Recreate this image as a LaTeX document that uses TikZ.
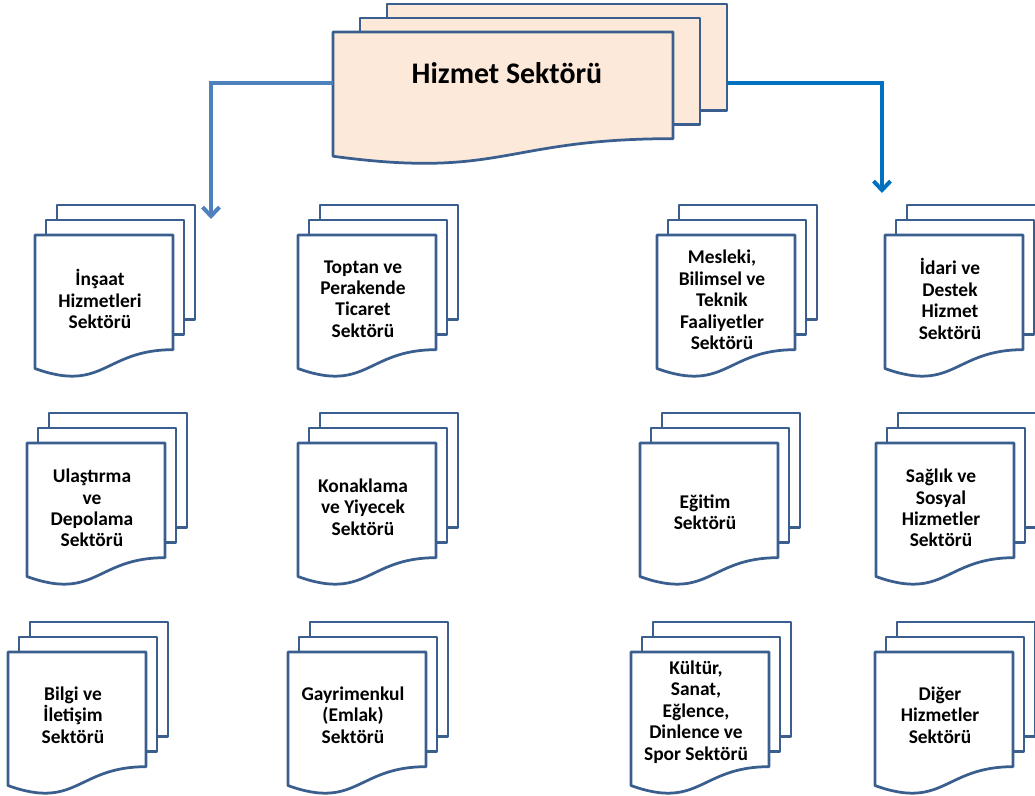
\documentclass[tikz,border=0pt]{standalone}
\usepackage{fontspec}
\setmainfont{Carlito}
\usepackage{xcolor}
\usetikzlibrary{arrows.meta}
\definecolor{pageLineColor}{HTML}{3A5F8E}
\definecolor{pageFillColor}{HTML}{FFFFFF}
\definecolor{mainFillColor}{HTML}{FDE9D9}
\definecolor{linkColorLeft}{HTML}{4F81BD}
\definecolor{linkColorRight}{HTML}{0070C0}
\def\textMain{Hizmet Sektörü}
\def\textA{İnşaat\\Hizmetleri\\Sektörü}
\def\textB{Toptan ve\\Perakende\\Ticaret\\Sektörü}
\def\textC{Mesleki,\\Bilimsel ve\\Teknik\\Faaliyetler\\Sektörü}
\def\textD{İdari ve\\Destek\\Hizmet\\Sektörü}
\def\textE{Ulaştırma\\ve\\Depolama\\Sektörü}
\def\textF{Konaklama\\ve Yiyecek\\Sektörü}
\def\textG{Eğitim\\Sektörü}
\def\textH{Sağlık ve\\Sosyal\\Hizmetler\\Sektörü}
\def\textI{Bilgi ve\\İletişim\\Sektörü}
\def\textJ{Gayrimenkul\\(Emlak)\\Sektörü}
\def\textK{Kültür,\\Sanat,\\Eğlence,\\Dinlence ve\\Spor Sektörü}
\def\textL{Diğer\\Hizmetler\\Sektörü}
% x, y, width, height, page shift x, page shift y, fill
\def\pagestack#1#2#3#4#5#6#7{%
\begin{scope}[shift={(#1, #2)}]
\filldraw[pagebox, fill=#7] ({2*(#5)}, {2*(#6)}) rectangle ++(#3, {0.802*#4});
\filldraw[pagebox, fill=#7] (#5, #6) rectangle ++(#3, {0.802*#4});
\filldraw[pagebox, fill=#7] (0, 0) -- (#3, 0) -- (#3, {0.802*#4})
.. controls ({0.5*#3}, {0.802*#4}) and ({0.5*#3}, {1.1075*#4}) .. (0, {0.934*#4}) -- cycle;
\end{scope}}
\tikzset{
pagebox/.style={draw=pageLineColor, line width=2.75bp, line join=round},
pagelabel/.style={align=center, inner sep=0pt,
font=\bfseries\fontsize{19.5}{21.5}\selectfont},
mainlabel/.style={inner sep=0pt, font=\bfseries\fontsize{30}{34}\selectfont},
link/.style={line width=4bp, -{Straight Barb[length=9bp, width=17bp]}}
}

\begin{document}
\begin{tikzpicture}[x=1bp,y=-1bp]
\clip (0, 0) rectangle (1035, 796);

% main page stack
\pagestack{333}{32}{340}{133}{27}{-14}{mainFillColor}
\node[mainlabel] (hizmet) at (507, 73) {\textMain};
\coordinate (hizmetLeft) at (333, 83);
\coordinate (hizmetRight) at (727, 83);

% sector page stacks
\begin{scope}
\pagestack{35}{235}{138}{143}{11}{-15}{pageFillColor}
\pagestack{298}{235}{138}{143}{11}{-15}{pageFillColor}
\pagestack{657}{235}{138}{143}{11}{-15}{pageFillColor}
\pagestack{885}{235}{138}{143}{11}{-15}{pageFillColor}
\pagestack{27}{443}{138}{143}{11}{-15}{pageFillColor}
\pagestack{298}{443}{138}{143}{11}{-15}{pageFillColor}
\pagestack{640}{443}{138}{143}{11}{-15}{pageFillColor}
\pagestack{876}{443}{138}{143}{11}{-15}{pageFillColor}
\pagestack{8}{652}{138}{143}{11}{-15}{pageFillColor}
\pagestack{288}{652}{138}{143}{11}{-15}{pageFillColor}
\pagestack{631}{652}{138}{143}{11}{-15}{pageFillColor}
\pagestack{875}{652}{138}{143}{11}{-15}{pageFillColor}
\end{scope}

% label layer
\begin{scope}
\node[pagelabel] (insaat) at (100, 299) {\textA};
\node[pagelabel] (toptan) at (363, 299) {\textB};
\node[pagelabel] (mesleki) at (722, 300) {\textC};
\node[pagelabel] (idari) at (950, 299) {\textD};
\node[pagelabel] (ulastirma) at (92, 508) {\textE};
\node[pagelabel] (konaklama) at (363, 507) {\textF};
\node[pagelabel] (egitim) at (705, 512) {\textG};
\node[pagelabel] (saglik) at (941, 508) {\textH};
\node[pagelabel] (bilgi) at (73, 715) {\textI};
\node[pagelabel] (gayrimenkul) at (353, 715) {\textJ};
\node[pagelabel] (kultur) at (696, 712) {\textK};
\node[pagelabel] (diger) at (940, 715) {\textL};
\end{scope}

% link layer
\begin{scope}
\coordinate (leftEnd) at (211, 219);
\coordinate (rightEnd) at (882, 193);
\draw[link, color=linkColorLeft] (hizmetLeft) -| (leftEnd);
\draw[link, color=linkColorRight] (hizmetRight) -| (rightEnd);
\end{scope}
\end{tikzpicture}
\end{document}
